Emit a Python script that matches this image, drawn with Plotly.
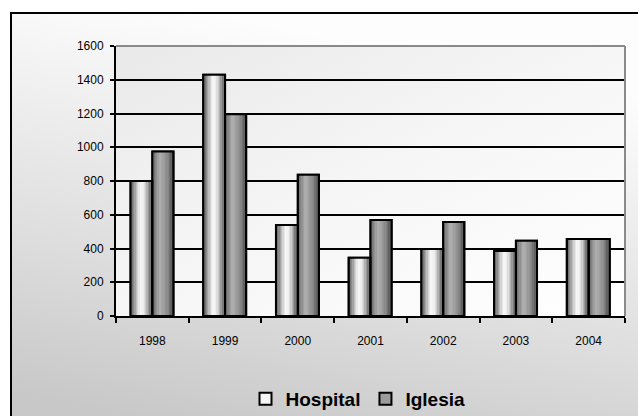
import base64
import plotly.graph_objects as go

# ---- data ----
years = ["1998", "1999", "2000", "2001", "2002", "2003", "2004"]
hospital = [800, 1430, 540, 345, 397, 385, 456]
iglesia = [975, 1195, 837, 569, 557, 446, 456]
y_ticks = [0, 200, 400, 600, 800, 1000, 1200, 1400, 1600]

FONT = "Liberation Sans, Arial, sans-serif"

# ---- style helpers ----
def hex2rgb(h):
    h = h.lstrip("#")
    return tuple(int(h[i:i + 2], 16) for i in (0, 2, 4))

def interp(stops, t):
    for (t0, c0), (t1, c1) in zip(stops[:-1], stops[1:]):
        if t0 <= t <= t1:
            a = (t - t0) / (t1 - t0) if t1 > t0 else 0
            r0, g0, b0 = hex2rgb(c0)
            r1, g1, b1 = hex2rgb(c1)
            return "rgb(%d,%d,%d)" % (r0 + (r1 - r0) * a, g0 + (g1 - g0) * a, b0 + (b1 - b0) * a)
    return stops[-1][1]

def svg_gradient(stops, x1, y1, x2, y2):
    st = "".join("<stop offset='%g' stop-color='%s'/>" % (o, c) for o, c in stops)
    svg = ("<svg xmlns='http://www.w3.org/2000/svg' width='100' height='100' viewBox='0 0 100 100' "
           "preserveAspectRatio='none'><defs><linearGradient id='g' x1='%g' y1='%g' x2='%g' y2='%g'>%s"
           "</linearGradient></defs><rect width='100' height='100' fill='url(#g)'/></svg>") % (x1, y1, x2, y2, st)
    return "data:image/svg+xml;base64," + base64.b64encode(svg.encode()).decode()

hosp_stops = [(0, "#6a6a6a"), (0.15, "#999999"), (0.3, "#cfcfcf"), (0.45, "#f7f7f7"),
              (0.6, "#f0f0f0"), (0.75, "#cccccc"), (0.9, "#979797"), (1, "#6a6a6a")]
igl_stops = [(0, "#707070"), (0.15, "#8c8c8c"), (0.35, "#b2b2b2"), (0.55, "#a0a0a0"),
             (0.8, "#888888"), (1, "#5a5a5a")]

fig = go.Figure()

N = 14
inset = 0.02
series = [
    ("Hospital", hospital, -0.30, 0.30, hosp_stops, "#f6f6f6"),
    ("Iglesia", iglesia, 0.0, 0.29, igl_stops, "#9c9c9c"),
]
for name, vals, off, wid, stops, legcol in series:
    fig.add_trace(go.Bar(x=years, y=vals, name=name, offset=off, width=wid,
                         marker=dict(color=legcol, line=dict(color="black", width=2)),
                         showlegend=True, legendgroup=name))
    inner = wid - 2 * inset
    sw = inner / N
    for i in range(N):
        t = (i + 0.5) / N
        fig.add_trace(go.Bar(x=years, y=vals, offset=off + inset + i * sw, width=sw * 1.05,
                             marker=dict(color=interp(stops, t), line=dict(width=0)),
                             showlegend=False, legendgroup=name, hoverinfo="skip"))
for name, vals, off, wid, stops, legcol in series:
    fig.add_trace(go.Bar(x=years, y=vals, offset=off, width=wid,
                         marker=dict(color="rgba(0,0,0,0)", line=dict(color="black", width=2)),
                         showlegend=False, legendgroup=name))

# figure fills the 638x416 window (body margin removed below)
FW, FH = 638, 416
PL, PR, PT, PB = 116, 625, 46, 316   # plot area in window pixels
L, T, R, B = PL, PT, FW - PR, FH - PB
W = PR - PL
H = PB - PT

def px_x(px):
    return (px - PL) / W

def px_y(py):
    return (PB - py) / H

outer_img = svg_gradient([(0, "#fdfdfd"), (0.55, "#dedede"), (0.9, "#c8c8c8"), (1, "#c8c8c8")], 0.3, 0, 0, 1)
inner_img = svg_gradient([(0, "#e9e9e9"), (0.5, "#f6f6f6"), (1, "#ffffff")], 0, 0, 1, 1)

fig.update_layout(
    width=FW, height=FH,
    margin=dict(l=L, r=R, t=T, b=B, autoexpand=False),
    paper_bgcolor="white",
    plot_bgcolor="rgba(0,0,0,0)",
    barmode="overlay",
    font=dict(family=FONT, color="black"),
    images=[
        dict(source=outer_img, xref="paper", yref="paper", x=px_x(10), y=px_y(12),
             sizex=px_x(660) - px_x(10), sizey=px_y(12) - px_y(440), xanchor="left", yanchor="top",
             sizing="stretch", layer="below"),
        dict(source=inner_img, xref="paper", yref="paper", x=0, y=1, sizex=1, sizey=1,
             xanchor="left", yanchor="top", sizing="stretch", layer="below"),
    ],
    shapes=[
        dict(type="line", xref="paper", yref="paper", x0=0, x1=1, y0=1, y1=1,
             line=dict(color="#8a8a8a", width=2), layer="above"),
        dict(type="line", xref="paper", yref="paper", x0=1, x1=1, y0=0, y1=1,
             line=dict(color="#8a8a8a", width=2), layer="above"),
        dict(type="rect", xref="paper", yref="paper", x0=px_x(11), x1=px_x(700),
             y0=px_y(500), y1=px_y(13), line=dict(color="black", width=2), layer="above"),
    ],
    xaxis=dict(type="category", tickson="boundaries", ticks="outside", ticklen=5, tickwidth=2,
               tickcolor="black", showline=True, linecolor="black", linewidth=2,
               tickfont=dict(size=12, family=FONT, color="black"), ticklabelstandoff=13,
               showgrid=False, range=[-0.5, 6.5]),
    yaxis=dict(range=[0, 1600], tickvals=y_ticks, ticks="outside", ticklen=4, tickwidth=2,
               tickcolor="black", showline=True, linecolor="black", linewidth=2,
               showgrid=True, gridcolor="black", gridwidth=2, zeroline=False,
               tickfont=dict(size=12, family=FONT, color="black"), ticklabelstandoff=4),
    legend=dict(orientation="h", x=px_x(358), xanchor="center", y=px_y(399), yanchor="middle",
                bgcolor="rgba(0,0,0,0)", font=dict(size=19, family=FONT, color="black", weight="bold"),
                itemclick=False, tracegroupgap=0),
    showlegend=True,
)

fig.write_html("out.html", config={"displayModeBar": False},
               post_script="document.body.style.margin='0';document.body.style.overflow='hidden';")
